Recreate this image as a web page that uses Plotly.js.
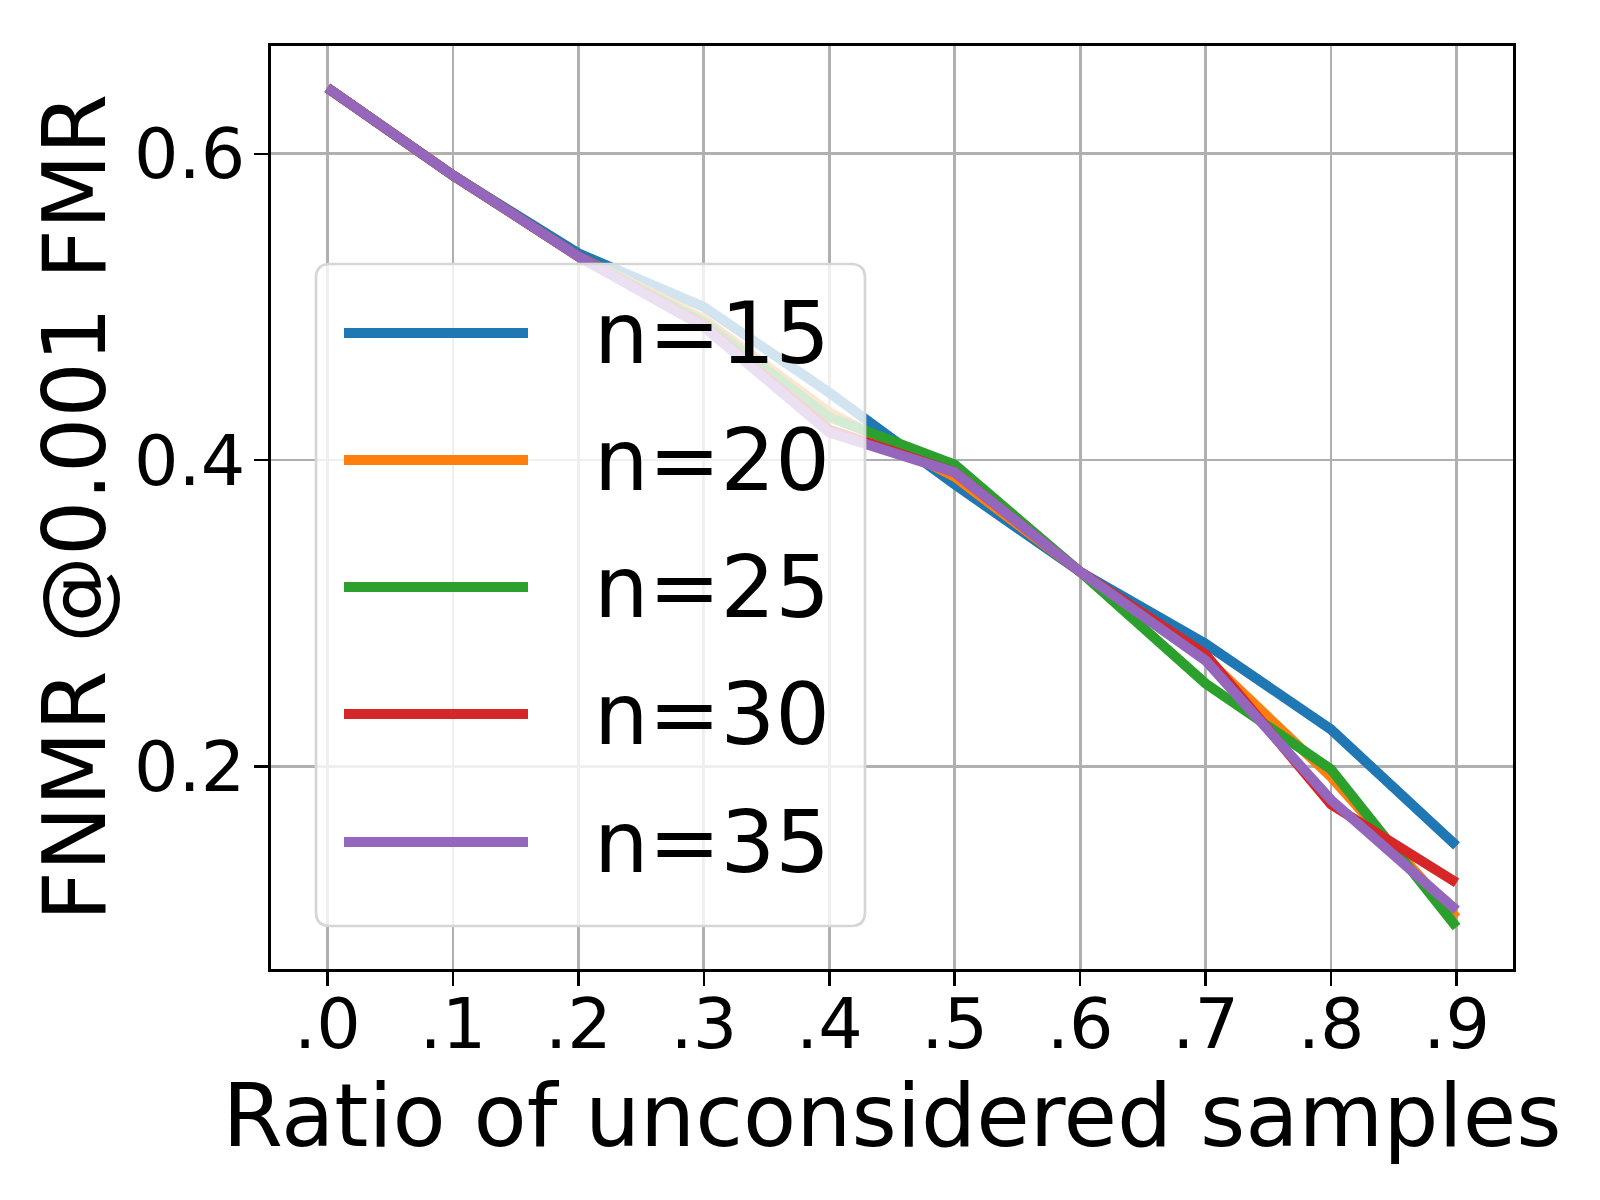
<!DOCTYPE html>
<html>
<head>
<meta charset="utf-8">
<script src="https://cdn.plot.ly/plotly-3.0.1.min.js"></script>
<style>html,body{margin:0;padding:0;background:#fff;}#chart{width:1600px;height:1200px;}</style>
</head>
<body>
<div id="chart"></div>
<script>
// ---- data ----
const ratios = [0.0, 0.1, 0.2, 0.3, 0.4, 0.5, 0.6, 0.7, 0.8, 0.9];
const xTickLabels = [".0", ".1", ".2", ".3", ".4", ".5", ".6", ".7", ".8", ".9"];
const yTickValues = [0.2, 0.4, 0.6];
const yTickLabels = ["0.2", "0.4", "0.6"];
const seriesNames = ["n=15", "n=20", "n=25", "n=30", "n=35"];
const n15 = [0.643, 0.586, 0.535, 0.500, 0.444, 0.384, 0.327, 0.280, 0.224, 0.148];
const n20 = [0.643, 0.586, 0.533, 0.492, 0.431, 0.389, 0.327, 0.271, 0.193, 0.101];
const n25 = [0.643, 0.586, 0.533, 0.490, 0.428, 0.397, 0.327, 0.254, 0.198, 0.095];
const n30 = [0.643, 0.586, 0.533, 0.488, 0.420, 0.392, 0.327, 0.273, 0.175, 0.124];
const n35 = [0.643, 0.586, 0.533, 0.487, 0.418, 0.392, 0.327, 0.269, 0.178, 0.106];
const seriesValues = [n15, n20, n25, n30, n35];
const colors = ["#1f77b4", "#ff7f0e", "#2ca02c", "#d62728", "#9467bd"];

// ---- layout geometry ----
const W = 1600, H = 1200;
const M = {l: 271, r: 87, t: 46, b: 231};
const PW = W - M.l - M.r, PH = H - M.t - M.b;
const px = v => (v - M.l) / PW;          // page px -> paper x
const py = v => (H - M.b - v) / PH;      // page px -> paper y
const FONT = "DejaVu Sans";

const traces = seriesValues.map((vals, i) => ({
  type: "scatter", mode: "lines",
  x: ratios, y: vals, name: seriesNames[i],
  line: {color: colors[i], width: 10},
  showlegend: false, hoverinfo: "skip"
}));

// legend (drawn as a matplotlib-style box)
const box = {x0: 316, x1: 865, y0: 264, y1: 926, r: 14};
function roundRect(b) {
  const rx = b.r / PW, ry = b.r / PH;
  const X0 = px(b.x0), X1 = px(b.x1), Y0 = py(b.y1), Y1 = py(b.y0);
  return `M${X0 + rx},${Y0} L${X1 - rx},${Y0} Q${X1},${Y0} ${X1},${Y0 + ry} ` +
         `L${X1},${Y1 - ry} Q${X1},${Y1} ${X1 - rx},${Y1} L${X0 + rx},${Y1} ` +
         `Q${X0},${Y1} ${X0},${Y1 - ry} L${X0},${Y0 + ry} Q${X0},${Y0} ${X0 + rx},${Y0} Z`;
}
const shapes = [{
  type: "path", xref: "paper", yref: "paper", path: roundRect(box),
  fillcolor: "rgba(255,255,255,0.8)", line: {color: "#d6d6d6", width: 2.7}, layer: "above"
}];
const annotations = [];
const rowY = [333, 460, 587, 714, 842];
seriesNames.forEach((nm, i) => {
  shapes.push({type: "line", xref: "paper", yref: "paper",
    x0: px(344), x1: px(528), y0: py(rowY[i]), y1: py(rowY[i]),
    line: {color: colors[i], width: 10}, layer: "above"});
  annotations.push({xref: "paper", yref: "paper", x: px(592), y: py(rowY[i]),
    xanchor: "left", yanchor: "middle", text: nm, showarrow: false,
    font: {family: FONT, size: 86, color: "#000"}});
});

const axisCommon = {
  showline: true, linecolor: "#000", linewidth: 2.6, mirror: true,
  ticks: "outside", ticklen: 14, tickwidth: 2.6, tickcolor: "#000",
  showgrid: true, gridcolor: "#b0b0b0", gridwidth: 2.8, zeroline: false,
  tickfont: {family: FONT, size: 70, color: "#000"}
};

const layout = {
  width: W, height: H,
  margin: M,
  paper_bgcolor: "#fff", plot_bgcolor: "#fff",
  font: {family: FONT, color: "#000"},
  xaxis: Object.assign({}, axisCommon, {
    range: [-0.045, 0.945], tickmode: "array", tickvals: ratios, ticktext: xTickLabels,
    ticklabelstandoff: -22,
    title: {text: "Ratio of unconsidered samples", font: {family: FONT, size: 87, color: "#000"}, standoff: 0}
  }),
  yaxis: Object.assign({}, axisCommon, {
    range: [0.0676, 0.6704], tickmode: "array", tickvals: yTickValues, ticktext: yTickLabels,
    ticklabelstandoff: -5,
    title: {text: "FNMR @0.001 FMR", font: {family: FONT, size: 87, color: "#000"}, standoff: 0}
  }),
  shapes: shapes,
  annotations: annotations,
  showlegend: false
};

Plotly.newPlot("chart", traces, layout, {displayModeBar: false, staticPlot: true});
</script>
</body>
</html>
